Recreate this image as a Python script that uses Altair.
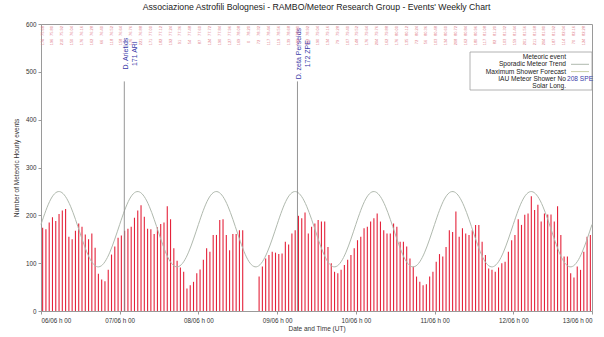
import altair as alt
import pandas as pd

TITLE = "Associazione Astrofili Bolognesi - RAMBO/Meteor Research Group - Events' Weekly Chart"
X_TITLE = "Date and Time (UT)"
Y_TITLE = "Number of Meteoric Hourly events"
FONT = "Liberation Sans"

day_labels = ["06/06 h 00", "07/06 h 00", "08/06 h 00", "09/06 h 00",
              "10/06 h 00", "11/06 h 00", "12/06 h 00", "13/06 h 00"]
day_hours = [0, 24, 48, 72, 96, 120, 144, 168]
y_ticks = [0, 100, 200, 300, 400, 500, 600]

# hourly meteor counts (None = no data)
counts_d1 = [174, 171, 185, 196, 188, 203, 210, 213, 155, 150, 168, 183,
             176, 160, 150, 162, 132, 78, 66, 62, 86, 118, 135, 153]
counts_d2 = [158, 168, 172, 176, 195, 210, 221, 197, 172, 171, 161, 175,
             182, 185, 219, 192, 131, 105, 91, 82, 47, 54, 61, 79]
counts_d3 = [87, 107, 131, 124, 159, 159, 190, 192, 159, 127, 161, 161,
             169, 169, None, None, None, None, 72, 93, 110, 117, 124, 122]
counts_d4 = [119, 120, 145, 139, 162, 169, 199, 194, 206, 162, 176, 183,
             190, 187, 187, 134, 100, 82, 79, 86, 96, 107, 117, 131]
counts_d5 = [148, 155, 173, 176, 187, 194, 204, 187, 169, 162, 162, 183,
             176, 145, 145, 135, 110, 93, 72, 61, 54, 56, 72, 82]
counts_d6 = [103, 119, 114, 134, 169, 165, 208, 155, 173, 162, 159, 169,
             180, 180, 145, 117, 89, 86, 82, 91, 100, 103, 124, 148]
counts_d7 = [159, 192, 180, 201, 204, 240, 211, 222, 187, 204, 202, 202,
             187, 219, 159, 114, 114, 79, 70, 93, 86, 124, 155, 159]

# sporadic meteor trend, read every 3 hours
trend_hours = [0, 3, 6, 9, 12, 15, 18, 21, 24, 27, 30, 33, 36, 39, 42, 45,
               48, 51, 54, 57, 60, 63, 66, 69, 72, 75, 78, 81, 84, 87, 90, 93,
               96, 99, 102, 105, 108, 111, 114, 117, 120, 123, 126, 129, 132, 135, 138, 141,
               144, 147, 150, 153, 156, 159, 162, 165, 168]
trend_values = [181, 234, 249, 219, 161, 108, 93, 123,
                181, 234, 249, 219, 161, 108, 93, 123,
                181, 234, 249, 219, 161, 108, 93, 123,
                181, 234, 249, 219, 161, 108, 93, 123,
                181, 234, 249, 219, 161, 108, 93, 123,
                181, 234, 249, 219, 161, 108, 93, 123,
                181, 234, 249, 219, 161, 108, 93, 123,
                181]

shower_names = ["D. Arietids", "D. zeta Perseids"]
shower_codes = ["171 ARI", "172 ZPE"]
shower_hours = [25.4, 78.2]
shower_line_tops = [480, 480]
shower_label_levels = [538, 538]

sollong_labels = ["75.68", "75.80", "75.92", "76.04", "76.16", "76.28", "76.40", "76.52",
                  "76.64", "76.76", "76.88", "77.00", "77.12", "77.24", "77.36", "77.48",
                  "77.60", "77.72", "77.84", "77.96", "78.08", "78.20", "78.32", "78.44",
                  "78.56", "78.68", "78.80", "78.92", "79.04", "79.16", "79.28", "79.40",
                  "79.52", "79.64", "79.76", "79.88", "80.00", "80.12", "80.24", "80.36",
                  "80.48", "80.60", "80.72", "80.84", "80.96", "81.08", "81.20", "81.32",
                  "81.44", "81.56", "81.68", "81.80", "81.92", "82.04", "82.16", "82.28"]

legend_labels = ["Meteoric event", "Sporadic Meteor Trend", "Maximum Shower Forecast",
                 "IAU Meteor Shower No", "Solar Long."]
legend_extra = "208 SPE"

RED = "#e4223a"
TREND = "#b0b9ae"
BLUE = "#3a3aa8"

# ---------- data frames ----------
counts = counts_d1 + counts_d2 + counts_d3 + counts_d4 + counts_d5 + counts_d6 + counts_d7
bars_df = pd.DataFrame({"t": [i + 0.5 for i in range(len(counts))], "v": counts}).dropna()
bars_df["z"] = 0
trend_df = pd.DataFrame({"t": trend_hours, "v": trend_values})
events_df = pd.DataFrame({
    "t": shower_hours,
    "v": shower_line_tops,
    "ly": shower_label_levels,
    "label": [n + "\n" + c for n, c in zip(shower_names, shower_codes)],
})
events_df["z"] = 0
top_hours = trend_hours[:-1]
top_df = pd.DataFrame({
    "t": [h + 0.5 for h in top_hours],
    "sl": sollong_labels,
    "n": [str(counts[h]) if counts[h] is not None else "0" for h in top_hours],
})

label_expr = "[" + ",".join("'" + s + "'" for s in day_labels) + "][round(datum.value/24)]"

x_scale = alt.Scale(domain=[0, 168], nice=False, zero=False)
y_scale = alt.Scale(domain=[0, 600], nice=False)

AX = dict(grid=False, labelFont=FONT, titleFont=FONT, labelFontSize=6.3, titleFontSize=6.5,
          titleFontWeight="normal", labelColor="#333", titleColor="#333",
          domainColor="#9a9a9a", tickColor="#9a9a9a", tickSize=3)

bars = alt.Chart(bars_df).mark_rule(color=RED, strokeWidth=1.1).encode(
    x=alt.X("t:Q", scale=x_scale,
            axis=alt.Axis(values=day_hours, labelExpr=label_expr, title=X_TITLE,
                          labelPadding=3, titlePadding=2, **AX)),
    y=alt.Y("v:Q", scale=y_scale,
            axis=alt.Axis(values=y_ticks, title=Y_TITLE,
                          labelPadding=2, titlePadding=6, **AX)),
    y2="z:Q",
)

trend = alt.Chart(trend_df).mark_line(color=TREND, strokeWidth=1, interpolate="natural").encode(
    x="t:Q", y="v:Q"
)

event_lines = alt.Chart(events_df).mark_rule(color="#8a8a8a", strokeWidth=0.9).encode(
    x="t:Q", y="v:Q", y2="z:Q"
)

event_text = alt.Chart(events_df).mark_text(
    angle=270, align="center", baseline="middle", lineBreak="\n", lineHeight=9,
    font=FONT, fontSize=7, color=BLUE, dy=2
).encode(x="t:Q", y="ly:Q", text="label:N")

top_row1 = alt.Chart(top_df).mark_text(
    angle=270, align="center", baseline="middle", font=FONT, fontSize=4,
    color="#e07a88"
).encode(x="t:Q", y=alt.value(7), text="sl:N")

top_row2 = alt.Chart(top_df).mark_text(
    angle=270, align="center", baseline="middle", font=FONT, fontSize=4,
    color="#e07a88"
).encode(x="t:Q", y=alt.value(18), text="n:N")

dummy = pd.DataFrame({"a": [0]})
legend_layers = [
    alt.Chart(dummy).mark_rect(fill="white", stroke="#a0a0a0", strokeWidth=0.8).encode(
        x=alt.value(429), x2=alt.value(551), y=alt.value(28), y2=alt.value(66)
    )
]
for i, lab in enumerate(legend_labels):
    legend_layers.append(
        alt.Chart(dummy).mark_text(align="right", baseline="middle", font=FONT,
                                   fontSize=6.6, color="#222").encode(
            x=alt.value(525), y=alt.value(33 + 7.3 * i), text=alt.value(lab)
        )
    )
legend_layers.append(
    alt.Chart(dummy).mark_text(align="left", baseline="middle", font=FONT,
                               fontSize=6.6, color=BLUE).encode(
        x=alt.value(526), y=alt.value(33 + 7.3 * 3), text=alt.value(legend_extra)
    )
)
legend_layers.append(
    alt.Chart(dummy).mark_rule(color=TREND, strokeWidth=1).encode(
        x=alt.value(530), x2=alt.value(548), y=alt.value(33 + 7.3 * 1)
    )
)
legend_layers.append(
    alt.Chart(dummy).mark_rule(color="#c9cfa8", strokeWidth=1).encode(
        x=alt.value(530), x2=alt.value(548), y=alt.value(33 + 7.3 * 2)
    )
)

chart = alt.layer(
    bars, trend, event_lines, event_text, top_row1, top_row2, *legend_layers
).properties(
    width=551, height=287,
    background="white",
    title=alt.TitleParams(TITLE, font=FONT, fontSize=8.7, fontWeight="normal",
                          color="#222", anchor="middle", offset=9),
    autosize=alt.AutoSizeParams(type="none"),
    padding={"left": 41, "top": 24, "right": 12, "bottom": 26},
).configure_view(
    stroke="#9a9a9a", strokeWidth=1
)

chart.save("out.html", embed_options={"renderer": "svg", "actions": False})
